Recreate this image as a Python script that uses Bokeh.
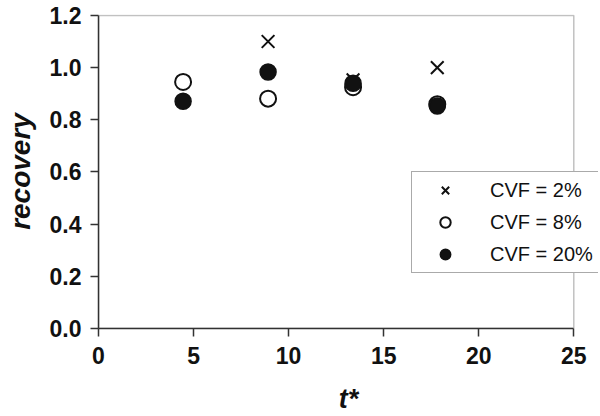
from bokeh.plotting import figure
from bokeh.models import Legend, LegendItem, FixedTicker, NumeralTickFormatter, Range1d, BoxAnnotation
from bokeh.embed import file_html
from bokeh.resources import INLINE

# data
t_cvf2 = [8.92, 13.39, 17.82]
rec_cvf2 = [1.10, 0.953, 1.00]
t_cvf8 = [4.45, 8.92, 13.39, 17.82]
rec_cvf8 = [0.945, 0.881, 0.925, 0.86]
t_cvf20 = [4.45, 8.92, 13.39, 17.82]
rec_cvf20 = [0.871, 0.983, 0.94, 0.853]
x_ticks = [0, 5, 10, 15, 20, 25]
y_ticks = [0.0, 0.2, 0.4, 0.6, 0.8, 1.0, 1.2]
labels = ["CVF = 2%", "CVF = 8%", "CVF = 20%"]

x_lo, x_hi = x_ticks[0], x_ticks[-1]
y_lo, y_hi = y_ticks[0], y_ticks[-1]

p = figure(frame_width=500, frame_height=314, output_backend="svg", toolbar_location=None,
           x_range=Range1d(x_lo, 26.30), y_range=Range1d(y_lo, y_hi * 1.003),
           min_border_left=98, min_border_right=0, min_border_top=14, min_border_bottom=86)
p.background_fill_color = "white"
p.border_fill_color = "white"
p.outline_line_color = None
p.grid.visible = False

# plot box (frame lines) from 0..25 and 0..1.2
box = BoxAnnotation(left=x_lo, right=x_hi, bottom=y_lo, top=y_hi,
                    fill_alpha=0, line_color="#333333", line_width=1.5)
p.add_layout(box)

r2 = p.scatter(t_cvf2, rec_cvf2, marker="x", size=18, line_color="#111111", line_width=2)
r8 = p.scatter(t_cvf8, rec_cvf8, marker="circle", size=16, fill_color="white",
               line_color="#111111", line_width=2)
r20 = p.scatter(t_cvf20, rec_cvf20, marker="circle", size=16, fill_color="#111111",
                line_color="#111111", line_width=1.5)

for ax in (p.xaxis[0], p.yaxis[0]):
    ax.axis_line_color = "#333333"
    ax.axis_line_width = 1.5
    ax.major_tick_line_color = "#333333"
    ax.major_tick_line_width = 1.5
    ax.major_tick_out = 8
    ax.major_tick_in = 0
    ax.minor_tick_out = 0
    ax.minor_tick_in = 0
    ax.major_label_text_font = "Liberation Sans"
    ax.major_label_text_font_style = "bold"
    ax.major_label_text_color = "#111111"
    ax.axis_label_text_font = "Liberation Sans"
    ax.axis_label_text_font_style = "bold italic"
    ax.axis_label_text_color = "#111111"

p.xaxis.major_label_text_font_size = "23px"
p.yaxis.major_label_text_font_size = "23px"
p.xaxis.bounds = (x_lo, x_hi)
p.yaxis.bounds = (y_lo, y_hi)
p.xaxis.ticker = FixedTicker(ticks=x_ticks)
p.yaxis.ticker = FixedTicker(ticks=y_ticks)
p.yaxis.formatter = NumeralTickFormatter(format="0.0")
p.xaxis.major_label_standoff = 10
p.yaxis.major_label_standoff = 9
p.xaxis.axis_label = "t*"
p.yaxis.axis_label = "recovery"
p.xaxis.axis_label_text_font_size = "27px"
p.yaxis.axis_label_text_font_size = "28px"
p.xaxis.axis_label_standoff = 17
p.yaxis.axis_label_standoff = 11

legend = Legend(items=[LegendItem(label=labels[0], renderers=[r2]),
                       LegendItem(label=labels[1], renderers=[r8]),
                       LegendItem(label=labels[2], renderers=[r20])],
                location=(313, 55), orientation="vertical")
legend.label_text_font = "Liberation Sans"
legend.label_text_font_size = "20px"
legend.label_text_color = "#111111"
legend.border_line_color = "#555555"
legend.border_line_width = 1.2
legend.background_fill_color = "white"
legend.background_fill_alpha = 1.0
legend.padding = 5
legend.margin = 0
legend.spacing = 6
legend.glyph_width = 56
legend.glyph_height = 26
legend.label_height = 26
legend.label_standoff = 17
legend.label_width = 102
p.add_layout(legend, "center")

open("out.html", "w").write(file_html(p, INLINE))
